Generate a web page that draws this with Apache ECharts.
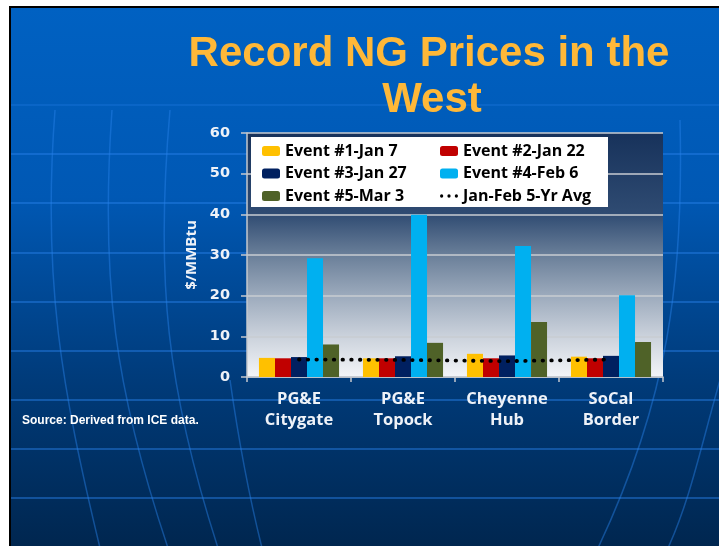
<!DOCTYPE html>
<html>
<head>
<meta charset="utf-8">
<script src="https://cdn.jsdelivr.net/npm/echarts@6/dist/echarts.min.js"></script>
<style>html,body{margin:0;padding:0;background:#fff;}#c{width:719px;height:546px;}</style>
</head>
<body>
<div id="c"></div>
<script>
const categories = ['PG&E\nCitygate', 'PG&E\nTopock', 'Cheyenne\nHub', 'SoCal\nBorder'];
const seriesNames = ['Event #1-Jan 7', 'Event #2-Jan 22', 'Event #3-Jan 27', 'Event #4-Feb 6', 'Event #5-Mar 3', 'Jan-Feb 5-Yr Avg'];
const event1 = [4.7, 4.6, 5.7, 5.0];
const event2 = [4.6, 4.6, 4.6, 4.6];
const event3 = [4.9, 5.1, 5.3, 5.2];
const event4 = [29.2, 39.9, 32.2, 20.1];
const event5 = [8.0, 8.4, 13.5, 8.6];
const avg5yr = [4.3, 4.2, 3.9, 4.3];
const yTicks = [0, 10, 20, 30, 40, 50, 60];

const colors = ['#FFC000', '#C00000', '#002060', '#00B0F0', '#4F6228', '#000000'];
const chart = echarts.init(document.getElementById('c'), null, {renderer: 'canvas'});

const bg = [];
bg.push({type: 'rect', z: -30, shape: {x: 9, y: 6, width: 712, height: 542}, style: {fill: '#000'}});
bg.push({type: 'rect', z: -29, shape: {x: 11, y: 8, width: 710, height: 540},
  style: {fill: new echarts.graphic.LinearGradient(0, 0, 0, 1, [
    {offset: 0, color: '#0061c2'}, {offset: 0.35, color: '#0058b4'}, {offset: 0.7, color: '#003a78'}, {offset: 1, color: '#00264f'}])}});
[105, 154, 203, 253, 302, 351, 400, 449, 498].forEach(function (y, i) {
  bg.push({type: 'line', z: -28, shape: {x1: 11, y1: y, x2: 719, y2: y},
    style: {stroke: 'rgba(40,130,235,' + (i < 1 ? 0.35 : 0.6) + ')', lineWidth: 1.5}});
});
[[[55,110],[42,280],[62,390],[100,548]], [[112,110],[100,280],[115,390],[168,548]], [[170,110],[155,280],[167,390],[218,548]],
 [[230,380],[240,450],[250,500],[262,548]], [[680,120],[684,280],[668,400],[598,548]], [[720,380],[700,450],[690,500],[668,548]]].forEach(function (p) {
  bg.push({type: 'bezierCurve', z: -28, shape: {x1: p[0][0], y1: p[0][1], cpx1: p[1][0], cpy1: p[1][1], cpx2: p[2][0], cpy2: p[2][1], x2: p[3][0], y2: p[3][1]},
    style: {stroke: 'rgba(40,130,235,0.45)', lineWidth: 1.5, fill: null}});
});
bg.push({type: 'text', z: 10, style: {text: 'Record NG Prices in the', x: 429, y: 54, align: 'center', verticalAlign: 'middle',
  font: 'bold 42px "Liberation Sans", Arial, sans-serif', fill: '#FFB838', shadowColor: '#0a1020', shadowOffsetX: 2, shadowOffsetY: 2, shadowBlur: 0}});
bg.push({type: 'text', z: 10, style: {text: 'West', x: 432, y: 100, align: 'center', verticalAlign: 'middle',
  font: 'bold 42px "Liberation Sans", Arial, sans-serif', fill: '#FFB838', shadowColor: '#0a1020', shadowOffsetX: 2, shadowOffsetY: 2, shadowBlur: 0}});
bg.push({type: 'text', z: 10, style: {text: 'Source: Derived from ICE data.', x: 22, y: 421, verticalAlign: 'middle',
  font: 'bold 12px "Liberation Sans", Arial, sans-serif', fill: '#ffffff'}});
bg.push({type: 'rect', z: 5, shape: {x: 251, y: 137, width: 357, height: 70}, style: {fill: '#ffffff'}});

const dotsIcon = 'path://M0,2A2,2 0 1,1 4,2A2,2 0 1,1 0,2Z M9,2A2,2 0 1,1 13,2A2,2 0 1,1 9,2Z M18,2A2,2 0 1,1 22,2A2,2 0 1,1 18,2Z';
const legendText = {fontFamily: '"Open Sans", sans-serif', fontWeight: 'bold', fontSize: 16, color: '#000', lineHeight: 16};

const barData = [event1, event2, event3, event4, event5];
const series = barData.map(function (d, i) {
  return {name: seriesNames[i], type: 'bar', data: d, barGap: '0%', barCategoryGap: '23%', itemStyle: {color: colors[i]}};
});
series.push({name: seriesNames[5], type: 'line', data: avg5yr, symbol: 'none', z: 4,
  itemStyle: {color: '#000'}, lineStyle: {color: '#000', width: 3.8, type: [0.5, 8.2], cap: 'round'}});

chart.setOption({
  animation: false,
  backgroundColor: 'transparent',
  color: colors,
  graphic: {elements: bg},
  grid: {left: 247, right: 56, top: 133, bottom: 169, show: true, borderWidth: 0,
    backgroundColor: new echarts.graphic.LinearGradient(0, 0, 0, 1, [
      {offset: 0, color: '#17325b'}, {offset: 0.33, color: '#2f4b72'}, {offset: 0.5, color: '#6a7f99'},
      {offset: 0.67, color: '#9dabbd'}, {offset: 0.83, color: '#cad1db'}, {offset: 1, color: '#f3f5f8'}])},
  legend: [
    {left: 257, top: 138, orient: 'vertical', itemWidth: 18, itemHeight: 10, itemGap: 6.5, z: 6, textStyle: legendText,
      data: [seriesNames[0], seriesNames[2], seriesNames[4]]},
    {left: 435, top: 138, orient: 'vertical', itemWidth: 18, itemHeight: 10, itemGap: 6.5, z: 6, textStyle: legendText,
      data: [seriesNames[1], seriesNames[3], {name: seriesNames[5], icon: dotsIcon}]}
  ],
  xAxis: {
    type: 'category', data: categories,
    axisLine: {lineStyle: {color: '#c4c8ce', width: 1.5}},
    axisTick: {show: true, length: 5, lineStyle: {color: '#c4c8ce', width: 1.5}},
    axisLabel: {interval: 0, color: '#eef2f8', fontFamily: '"Open Sans", sans-serif', fontWeight: 'bold', fontSize: 16.5, lineHeight: 21, margin: 12}
  },
  yAxis: {
    type: 'value', min: yTicks[0], max: yTicks[yTicks.length - 1], interval: 10,
    name: '$/MMBtu', nameLocation: 'middle', nameGap: 43,
    nameTextStyle: {color: '#eef2f8', fontFamily: '"Open Sans", sans-serif', fontWeight: 'bold', fontSize: 15},
    axisLine: {show: true, lineStyle: {color: '#c4c8ce', width: 1.5}},
    axisTick: {show: true, length: 6, lineStyle: {color: '#c4c8ce', width: 1.5}},
    splitLine: {lineStyle: {color: '#c8ccd2', width: 1.5}},
    axisLabel: {color: '#eef2f8', fontFamily: '"DejaVu Sans", sans-serif', fontWeight: 'bold', fontSize: 14.5, margin: 17}
  },
  series: series
});
</script>
</body>
</html>
